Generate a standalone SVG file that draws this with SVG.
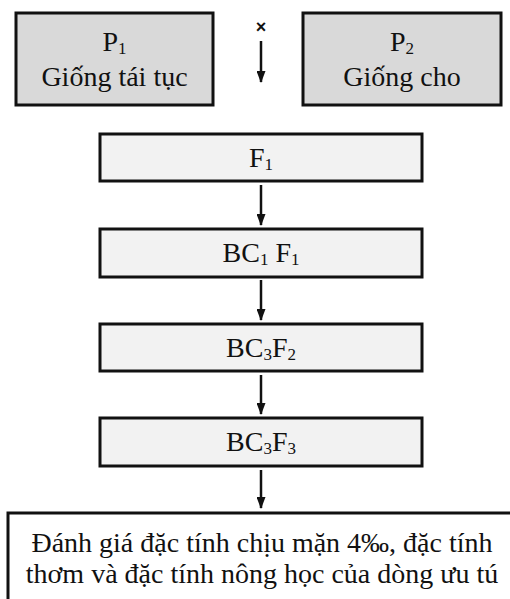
<svg xmlns="http://www.w3.org/2000/svg" width="510" height="599" viewBox="0 0 510 599">
<defs>
<style>
.box{stroke:#111;stroke-width:3}
.par{fill:#d9d9d9}
.gen{fill:#f2f2f2}
.t{font-family:"Liberation Serif","Times New Roman",serif;font-size:28px;fill:#111;text-anchor:middle}
.s{font-size:17px}
.c{stroke:#111;stroke-width:2.5;fill:none}
</style>
<marker id="ah" viewBox="0 0 12 9" refX="11" refY="4.5" markerWidth="12" markerHeight="9" markerUnits="userSpaceOnUse" orient="auto">
<path d="M0,0 L12,4.5 L0,9 z" fill="#111"/>
</marker>
</defs>
<rect width="510" height="599" fill="#fff"/>
<g id="p1">
<rect class="box par" x="16" y="13" width="197" height="92"/>
<text class="t" x="114.5" y="51">P<tspan class="s" dy="3">1</tspan></text>
<text class="t" x="114.5" y="86">Giống tái tục</text>
</g>
<g id="p2">
<rect class="box par" x="303" y="13" width="198" height="92"/>
<text class="t" x="402" y="51">P<tspan class="s" dy="3">2</tspan></text>
<text class="t" x="402" y="86">Giống cho</text>
</g>
<g id="cross">
<text x="261" y="33" font-family="Liberation Sans, Arial, sans-serif" font-size="18" font-weight="bold" text-anchor="middle" fill="#111">×</text>
</g>
<g id="f1">
<rect class="box gen" x="100" y="134" width="322" height="47"/>
<text class="t" x="261" y="167">F<tspan class="s" dy="3">1</tspan></text>
</g>
<g id="bc1f1">
<rect class="box gen" x="100" y="229" width="322" height="48"/>
<text class="t" x="261" y="262">BC<tspan class="s" dy="3">1</tspan><tspan dy="-3"> F</tspan><tspan class="s" dy="3">1</tspan></text>
</g>
<g id="bc3f2">
<rect class="box gen" x="100" y="324" width="322" height="47"/>
<text class="t" x="261" y="357">BC<tspan class="s" dy="3">3</tspan><tspan dy="-3">F</tspan><tspan class="s" dy="3">2</tspan></text>
</g>
<g id="bc3f3">
<rect class="box gen" x="100" y="418" width="322" height="48"/>
<text class="t" x="261" y="451">BC<tspan class="s" dy="3">3</tspan><tspan dy="-3">F</tspan><tspan class="s" dy="3">3</tspan></text>
</g>
<g id="eval">
<rect class="box" fill="#fff" x="8" y="513" width="520" height="100"/>
<text class="t" x="262" y="552">Đánh giá đặc tính chịu mặn 4‰, đặc tính</text>
<text class="t" x="262" y="583">thơm và đặc tính nông học của dòng ưu tú</text>
</g>
<g id="connectors">
<line class="c" x1="261" y1="41" x2="261" y2="82" marker-end="url(#ah)"/>
<line class="c" x1="261" y1="185" x2="261" y2="225" marker-end="url(#ah)"/>
<line class="c" x1="261" y1="280" x2="261" y2="320" marker-end="url(#ah)"/>
<line class="c" x1="261" y1="375" x2="261" y2="414" marker-end="url(#ah)"/>
<line class="c" x1="261" y1="470" x2="261" y2="508" marker-end="url(#ah)"/>
</g>
</svg>
